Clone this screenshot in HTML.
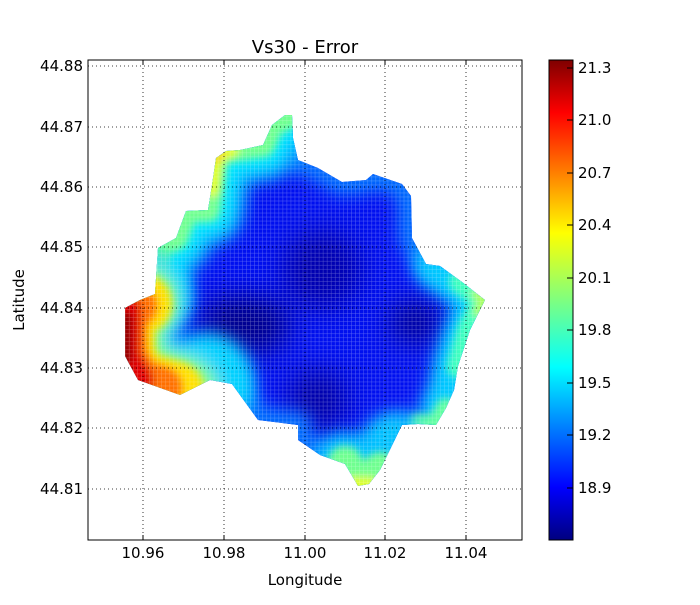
<!DOCTYPE html>
<html><head><meta charset="utf-8"><style>
body{margin:0;background:#fff;}
svg text{font-family:"DejaVu Sans","Liberation Sans",sans-serif;fill:#000;}
</style></head><body>
<svg width="700" height="600" viewBox="0 0 700 600" xmlns="http://www.w3.org/2000/svg">
<defs>
<clipPath id="shape"><polygon points="285,115 272,125 263,145 240,150 226,151 216,158 212,185 208,210 186,211 176,238 158,248 155,294 140,300 125,308 125,356 138,380 180,395 210,380 232,384 258,420 298,425 298,440 320,455 345,464 358,486 369,484 380,470 402,425 418,424 436,425 446,408 454,390 458,366 470,330 485,300 462,282 440,266 426,264 412,238 411,196 402,184 373,174 366,180 342,182 318,168 298,160 293,138 292,115"/></clipPath>
<filter id="b1" filterUnits="userSpaceOnUse" x="0" y="0" width="700" height="600"><feGaussianBlur stdDeviation="14"/></filter>
<filter id="b2" filterUnits="userSpaceOnUse" x="0" y="0" width="700" height="600"><feGaussianBlur stdDeviation="8"/></filter>
<filter id="b3" filterUnits="userSpaceOnUse" x="0" y="0" width="700" height="600"><feGaussianBlur stdDeviation="4"/></filter>
<linearGradient id="jet" x1="0" y1="1" x2="0" y2="0">
<stop offset="0" stop-color="#00007f"/><stop offset="0.11" stop-color="#0000ff"/><stop offset="0.36" stop-color="#00ffff"/>
<stop offset="0.5" stop-color="#7fff7f"/><stop offset="0.64" stop-color="#ffff00"/><stop offset="0.89" stop-color="#ff0000"/><stop offset="1" stop-color="#7f0000"/></linearGradient>
<pattern id="dots" width="4.04" height="4.02" patternUnits="userSpaceOnUse"><rect width="4.04" height="4.02" fill="none" stroke="#fff" stroke-width="0.4" opacity="0.4"/></pattern>
</defs>
<rect x="88" y="60" width="434" height="480" fill="#fff"/>
<g clip-path="url(#shape)" fill="none" stroke-linejoin="round" stroke-linecap="round">
<rect x="100" y="100" width="400" height="400" fill="#0010f0" stroke="none"/>
<g filter="url(#b1)" stroke="none">
<ellipse cx="245" cy="325" rx="45" ry="30" fill="#000090"/>
<ellipse cx="322" cy="270" rx="40" ry="40" fill="#0000b0"/>
<ellipse cx="318" cy="400" rx="30" ry="30" fill="#0000a8"/>
<ellipse cx="415" cy="322" rx="25" ry="22" fill="#000098"/>
</g>
<polygon filter="url(#b2)" stroke="#0070ff" stroke-width="26" points="285,115 272,125 263,145 240,150 226,151 216,158 212,185 208,210 186,211 176,238 158,248 155,294 140,300 125,308 125,356 138,380 180,395 210,380 232,384 258,420 298,425 298,440 320,455 345,464 358,486 369,484 380,470 402,425 418,424 436,425 446,408 454,390 458,366 470,330 485,300 462,282 440,266 426,264 412,238 411,196 402,184 373,174 366,180 342,182 318,168 298,160 293,138 292,115"/>
<g filter="url(#b2)">
<polyline stroke="#00b0ff" stroke-width="72" points="292,115 272,125 263,145 226,151 216,158 212,185 208,210 186,211 176,238 158,248 155,294 140,300"/>
<polyline stroke="#00e8ff" stroke-width="46" points="292,115 272,125 263,145 226,151 216,158 212,185 208,210 186,211 176,238 158,248 155,294 140,300"/>
</g>
<g filter="url(#b3)">
<polyline stroke="#70ff90" stroke-width="24" points="292,115 272,125 263,145 226,151 216,158 212,185 208,210 186,211 176,238 158,248 155,294 140,300"/>
<polyline stroke="#e0ff20" stroke-width="14" points="232,150 216,158 212,190"/>
<polyline stroke="#ffc000" stroke-width="6" points="222,152 216,160"/>
</g>
<g filter="url(#b2)">
<polyline stroke="#00d0ff" stroke-width="100" points="140,300 125,308 125,356 138,380 180,395 205,383"/>
<polyline stroke="#80ff80" stroke-width="76" points="140,302 125,308 125,356 138,380 180,394"/>
</g>
<g filter="url(#b3)">
<polyline stroke="#ffe000" stroke-width="60" points="142,304 125,310 125,356 138,380 174,391"/>
<polyline stroke="#ff7000" stroke-width="46" points="135,306 125,312 125,356 138,380 160,388"/>
<polyline stroke="#e00000" stroke-width="32" points="126,310 125,356 138,380"/>
<polyline stroke="#900000" stroke-width="14" points="125,318 125,358"/>
</g>
<g filter="url(#b2)">
<polyline stroke="#00c8ff" stroke-width="50" points="440,266 462,282 485,300 470,330 458,366 454,390 446,408"/>
</g>
<g filter="url(#b3)">
<polyline stroke="#40ffc0" stroke-width="26" points="462,282 485,300 470,330 460,366"/>
<polyline stroke="#b0ff50" stroke-width="10" points="476,294 485,300 478,312"/>
<polyline stroke="#60ffa0" stroke-width="20" points="418,424 436,425 446,408"/>
</g>
<g filter="url(#b2)">
<polyline stroke="#00c0ff" stroke-width="64" points="345,464 358,486 369,484 380,470 392,445"/>
</g>
<g filter="url(#b3)">
<polyline stroke="#70ff90" stroke-width="36" points="345,464 358,486 369,484 380,470"/>
<polyline stroke="#e0ff20" stroke-width="14" points="352,484 370,484"/>
</g>
<rect x="100" y="100" width="400" height="400" fill="url(#dots)" stroke="none"/>
</g>
<g stroke="#000" stroke-width="0.8" stroke-dasharray="1,3" fill="none">
<line x1="143" y1="60" x2="143" y2="540"/><line x1="224" y1="60" x2="224" y2="540"/><line x1="305" y1="60" x2="305" y2="540"/><line x1="385" y1="60" x2="385" y2="540"/><line x1="466" y1="60" x2="466" y2="540"/>
<line x1="88" y1="66" x2="522" y2="66"/><line x1="88" y1="127" x2="522" y2="127"/><line x1="88" y1="187" x2="522" y2="187"/><line x1="88" y1="247" x2="522" y2="247"/><line x1="88" y1="308" x2="522" y2="308"/><line x1="88" y1="368" x2="522" y2="368"/><line x1="88" y1="428" x2="522" y2="428"/><line x1="88" y1="489" x2="522" y2="489"/>
</g>
<rect x="88" y="60" width="434" height="480" fill="none" stroke="#000" stroke-width="1"/>
<g stroke="#000" stroke-width="1">
<line x1="143" y1="540" x2="143" y2="535"/><line x1="224" y1="540" x2="224" y2="535"/><line x1="305" y1="540" x2="305" y2="535"/><line x1="385" y1="540" x2="385" y2="535"/><line x1="466" y1="540" x2="466" y2="535"/>
<line x1="143" y1="60" x2="143" y2="65"/><line x1="224" y1="60" x2="224" y2="65"/><line x1="305" y1="60" x2="305" y2="65"/><line x1="385" y1="60" x2="385" y2="65"/><line x1="466" y1="60" x2="466" y2="65"/>
</g>
<g font-size="15" text-anchor="middle">
<text x="143" y="558">10.96</text><text x="224" y="558">10.98</text><text x="305" y="558">11.00</text><text x="385" y="558">11.02</text><text x="466" y="558">11.04</text>
</g>
<g font-size="15" text-anchor="end">
<text x="83" y="71">44.88</text><text x="83" y="132">44.87</text><text x="83" y="192">44.86</text><text x="83" y="252">44.85</text><text x="83" y="313">44.84</text><text x="83" y="373">44.83</text><text x="83" y="433">44.82</text><text x="83" y="494">44.81</text>
</g>
<text x="305" y="53" font-size="18" text-anchor="middle">Vs30 - Error</text>
<text x="305" y="585" font-size="15" text-anchor="middle">Longitude</text>
<text x="24" y="300" font-size="15" text-anchor="middle" transform="rotate(-90 24 300)">Latitude</text>
<rect x="549" y="60" width="24" height="480" fill="url(#jet)" stroke="#000" stroke-width="1"/>
<g stroke="#000" stroke-width="1">
<line x1="567" y1="68" x2="573" y2="68"/><line x1="567" y1="120" x2="573" y2="120"/><line x1="567" y1="173" x2="573" y2="173"/><line x1="567" y1="225" x2="573" y2="225"/><line x1="567" y1="278" x2="573" y2="278"/><line x1="567" y1="330" x2="573" y2="330"/><line x1="567" y1="383" x2="573" y2="383"/><line x1="567" y1="435" x2="573" y2="435"/><line x1="567" y1="488" x2="573" y2="488"/>
</g>
<g font-size="15">
<text x="578" y="73">21.3</text><text x="578" y="125">21.0</text><text x="578" y="178">20.7</text><text x="578" y="230">20.4</text><text x="578" y="283">20.1</text><text x="578" y="335">19.8</text><text x="578" y="388">19.5</text><text x="578" y="440">19.2</text><text x="578" y="493">18.9</text>
</g>
</svg>
</body></html>
